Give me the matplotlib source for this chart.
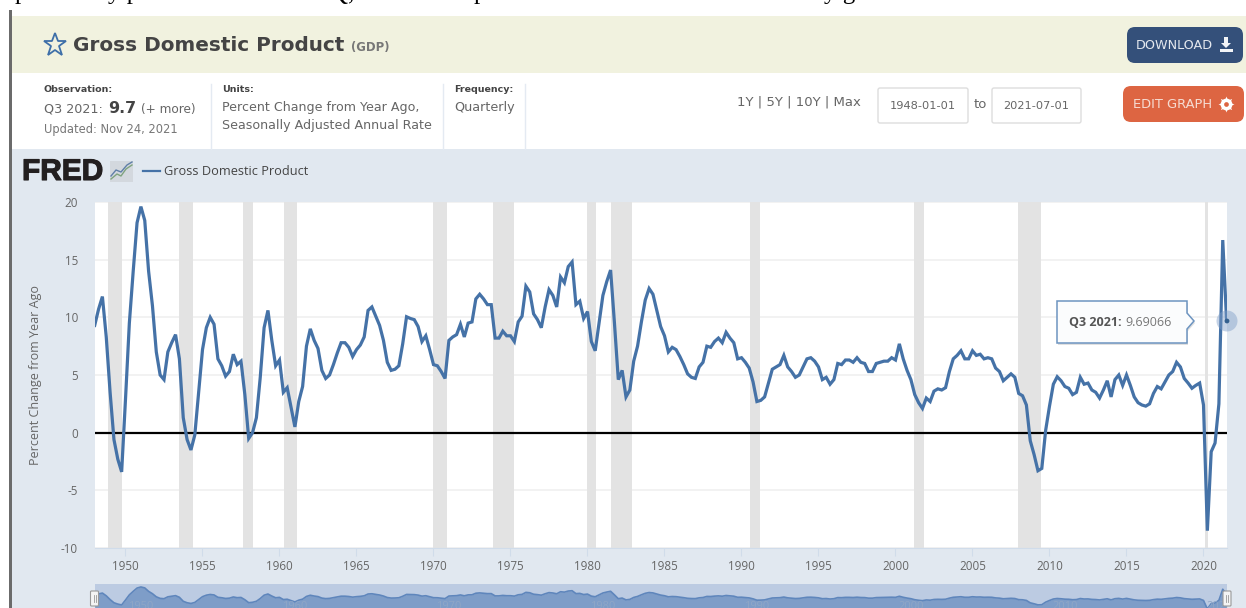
# -*- coding=utf-8 -*-
import matplotlib
matplotlib.use('Agg')
import matplotlib.pyplot as plt
import matplotlib.patheffects as pe
import numpy as np
from matplotlib.patches import Rectangle, FancyBboxPatch, Circle, Polygon

plt.rcParams['axes.unicode_minus'] = False

# 1948 Q1 ... 2021 Q3, percent change from year ago
gdp_1948_1959 = [9.3, 10.7, 11.8, 8.3, 3.5, -0.6, -2.3, -3.4,
                 2.9, 9.5, 14.0, 18.2, 19.6, 18.4, 14.0, 11.0,
                 7.0, 5.0, 4.6, 7.0, 7.8, 8.5, 6.4, 1.3,
                 -0.6, -1.5, -0.2, 3.5, 7.2, 9.1, 10.0, 9.4,
                 6.4, 5.8, 4.9, 5.3, 6.8, 5.9, 6.2, 3.3,
                 -0.5, 0.0, 1.3, 4.8, 9.1, 10.6, 8.0, 5.8]
gdp_1960_1971 = [6.3, 3.5, 3.9, 2.2, 0.5, 2.7, 4.0, 7.5,
                 9.0, 8.0, 7.3, 5.4, 4.7, 5.0, 5.9, 6.9,
                 7.8, 7.8, 7.4, 6.6, 7.2, 7.6, 8.3, 10.6,
                 10.9, 10.1, 9.3, 8.0, 6.1, 5.4, 5.5, 5.8,
                 7.7, 10.05, 9.9, 9.8, 9.2, 7.9, 8.4, 7.2,
                 5.9, 5.8, 5.3, 4.7, 8.0, 8.3, 8.5, 9.4]
gdp_1972_1984 = [8.3, 9.5, 9.6, 11.6, 12.0, 11.6, 11.1, 11.1,
                 8.2, 8.2, 8.8, 8.4, 8.4, 7.9, 9.6, 10.1,
                 12.7, 12.2, 10.3, 9.8, 9.1, 10.9, 12.4, 11.9,
                 10.9, 13.5, 13.0, 14.4, 14.8, 11.1, 11.4, 9.9,
                 10.5, 7.9, 7.1, 9.5, 11.9, 13.1, 14.1, 9.5,
                 4.6, 5.4, 3.1, 3.7, 6.2, 7.5, 9.6, 11.5,
                 12.5, 12.0, 10.6, 9.2]
gdp_1985_1996 = [8.4, 7.0, 7.4, 7.2, 6.6, 5.9, 5.1, 4.8,
                 4.7, 5.7, 6.1, 7.5, 7.4, 7.9, 8.2, 7.8,
                 8.7, 8.2, 7.8, 6.4, 6.5, 6.1, 5.6, 4.4,
                 2.7, 2.8, 3.1, 4.3, 5.5, 5.7, 5.9, 6.7,
                 5.7, 5.3, 4.8, 5.0, 5.7, 6.4, 6.5, 6.2,
                 5.7, 4.6, 4.8, 4.2, 4.6, 6.0, 5.9, 6.3]
gdp_1997_2008 = [6.3, 6.1, 6.5, 6.1, 6.0, 5.3, 5.3, 6.0,
                 6.1, 6.2, 6.2, 6.5, 6.3, 7.7, 6.4, 5.4,
                 4.6, 3.3, 2.6, 2.1, 3.0, 2.7, 3.6, 3.8,
                 3.7, 3.9, 5.3, 6.4, 6.7, 7.1, 6.4, 6.4,
                 7.1, 6.7, 6.8, 6.4, 6.5, 6.4, 5.6, 5.3,
                 4.5, 4.8, 5.1, 4.8, 3.4, 3.2, 2.4, -0.7]
gdp_2009_2021 = [-1.9, -3.3, -3.1, 0.2, 2.3, 4.2, 4.85, 4.5,
                 4.0, 3.85, 3.3, 3.5, 4.8, 4.2, 4.3, 3.7,
                 3.5, 3.0, 3.7, 4.5, 3.1, 4.6, 5.0, 4.1,
                 5.0, 4.1, 3.1, 2.6, 2.4, 2.3, 2.5, 3.4,
                 4.0, 3.8, 4.4, 5.0, 5.3, 6.1, 5.7, 4.7,
                 4.3, 3.85, 4.1, 4.3, 2.4, -8.5, -1.65, -0.9,
                 2.5, 16.7, 9.69066]
gdp = np.array(gdp_1948_1959 + gdp_1960_1971 + gdp_1972_1984
               + gdp_1985_1996 + gdp_1997_2008 + gdp_2009_2021)
quarters = 1948 + np.arange(len(gdp)) * 0.25

recession_start = [1948.87, 1953.5, 1957.6, 1960.3, 1969.95, 1973.85,
                   1980.0, 1981.5, 1990.55, 2001.2, 2007.93, 2020.1]
recession_end = [1949.8, 1954.37, 1958.3, 1961.12, 1970.87, 1975.2,
                 1980.55, 1982.87, 1991.2, 2001.87, 2009.45, 2020.3]

year_ticks = list(range(1950, 2021, 5))
value_ticks = [-10, -5, 0, 5, 10, 15, 20]
nav_years = list(range(1950, 2021, 10))

W, H = 1246, 608
BLUE = '#4572A7'
TXT = '#666666'
DARK = '#444444'
HEAD = 'DejaVu Sans'
CHART = 'Open Sans'


def px_axes(fig, z):
    # axes in picture pixels, origin top left
    ax = fig.add_axes([0, 0, 1, 1], zorder=z)
    ax.set_xlim(0, W)
    ax.set_ylim(H, 0)
    ax.axis('off')
    ax.patch.set_alpha(0)
    return ax


def box_in_px(fig, x0, y0, x1, y1, z):
    return fig.add_axes([x0 / W, 1 - y1 / H, (x1 - x0) / W, (y1 - y0) / H], zorder=z)


def button(ax, x0, y0, x1, y1, color):
    ax.add_patch(FancyBboxPatch((x0 + 8, y0 + 8), x1 - x0 - 16, y1 - y0 - 16,
                                boxstyle='round,pad=8', fc=color, ec='none'))


def page(ax):
    # document line above the screenshot, only the descenders are left in the crop
    for x, s in [(15, 'p'), (108, 'y p'), (330, 'Q,'), (474, 'p'), (824, 'y g')]:
        ax.text(x, -0.5, s, family='Liberation Serif', fontsize=18, color='black', va='baseline')
    ax.add_patch(Rectangle((9, 10), 2.5, H - 10, fc='#6b6b6b', ec='none'))
    ax.add_patch(Rectangle((11.5, 16), W, 57, fc='#F1F2DF', ec='none'))
    ax.add_patch(Rectangle((11.5, 149), W, H, fc='#E1E8F0', ec='none'))

    ax.plot([55], [45], marker='*', ms=17, mfc='#F1F2DF', mec='#3E6FA8', mew=1.3)
    ax.text(73, 45.5, 'Gross Domestic Product', family=HEAD, weight='bold', fontsize=14.4,
            color=DARK, va='center')
    ax.text(351, 48, '(GDP)', family=HEAD, weight='bold', fontsize=8.4, color='#777777', va='center')

    for x in [211, 443, 525]:
        ax.plot([x, x], [84, 149], color='#E4EAF2', lw=1)
    ax.text(44, 90, 'Observation:', family=HEAD, weight='bold', fontsize=6.8, color=DARK, va='center')
    ax.text(44, 109.5, 'Q3 2021:', family=HEAD, fontsize=9.2, color=TXT, va='center')
    ax.text(108, 108.5, '9.7', family=HEAD, weight='bold', fontsize=11.4, color=DARK, va='center')
    ax.text(141, 110, '(+ more)', family=HEAD, fontsize=8.7, color=TXT, va='center')
    ax.text(44, 130, 'Updated: Nov 24, 2021', family=HEAD, fontsize=8.3, color='#777777', va='center')
    ax.text(222, 90, 'Units:', family=HEAD, weight='bold', fontsize=6.8, color=DARK, va='center')
    ax.text(222, 107, 'Percent Change from Year Ago,', family=HEAD, fontsize=9.1, color=TXT, va='center')
    ax.text(222, 125, 'Seasonally Adjusted Annual Rate', family=HEAD, fontsize=9.1, color=TXT, va='center')
    ax.text(454, 90, 'Frequency:', family=HEAD, weight='bold', fontsize=6.8, color=DARK, va='center')
    ax.text(454, 107, 'Quarterly', family=HEAD, fontsize=9.2, color=TXT, va='center')

    ax.text(737, 102, '1Y | 5Y | 10Y | Max', family=HEAD, fontsize=9.5, color=TXT, va='center')
    for x0, x1, s in [(878, 968, '1948-01-01'), (992, 1081, '2021-07-01')]:
        ax.add_patch(FancyBboxPatch((x0 + 2, 90), x1 - x0 - 4, 31, boxstyle='round,pad=2',
                                    fc='white', ec='#DDDDDD', lw=1))
        ax.text((x0 + x1) / 2, 106, s, family=HEAD, fontsize=8.2, color=TXT, ha='center', va='center')
    ax.text(980, 105, 'to', family=HEAD, fontsize=9.5, color=TXT, ha='center', va='center')

    button(ax, 1127, 27, 1243, 63, '#34507A')
    ax.text(1136, 45.5, 'DOWNLOAD', family=HEAD, fontsize=9.2, color='#E4E8EE', va='center')
    # download icon
    ax.add_patch(Polygon([[1224, 37], [1228, 37], [1228, 43], [1231, 43], [1226, 48], [1221, 43], [1224, 43]],
                         fc='#F2F4F7', ec='none'))
    ax.add_patch(Rectangle((1219.5, 48.5), 13, 3.5, fc='#F2F4F7', ec='none'))

    button(ax, 1123, 86, 1244, 122, '#DD6542')
    ax.text(1133, 104.5, 'EDIT GRAPH', family=HEAD, fontsize=9.4, color='#F6DCD2', va='center')
    # gear icon
    ax.plot([1226], [104], marker=(8, 1, 0), ms=11.5, color='white', mew=0)
    ax.plot([1226], [104], marker='o', ms=8.5, color='white', mew=0)
    ax.plot([1226], [104], marker='o', ms=3.4, color='#DD6542', mew=0)

    # logo
    ax.text(22, 172, 'FRED', family='Liberation Sans', weight='bold', fontsize=21.5, color='#231F20',
            va='center', path_effects=[pe.withStroke(linewidth=0.8, foreground='#231F20')])
    ax.add_patch(Rectangle((110, 161), 23, 21, fc='#D3D8DE', ec='none'))
    ax.plot([111, 117, 121, 126, 132], [179, 174, 176, 169, 165], color='#7FA37F', lw=1)
    ax.plot([111, 116, 121, 127, 132], [176, 170, 172, 165, 162], color='#5F7FA8', lw=1)
    ax.plot([143, 160], [171, 171], color=BLUE, lw=1.6)
    ax.text(164, 171.5, 'Gross Domestic Product', family=CHART, fontsize=9.2, color='#444444', va='center')

    ax.text(36, 375, 'Percent Change from Year Ago', family=CHART, fontsize=9, color=TXT,
            rotation=90, ha='center', va='center')


def main_chart(ax):
    ax.set_facecolor('white')
    for a, b in zip(recession_start, recession_end):
        ax.axvspan(a, b, fc='#E3E3E3', ec='none', zorder=1)
    ax.grid(axis='y', color='#F0F0F0', lw=1.2, zorder=0)
    ax.set_axisbelow(True)
    ax.axhline(0, color='black', lw=1.6, zorder=2)
    ax.plot(quarters, gdp, color=BLUE, lw=2.3, zorder=3, solid_joinstyle='miter', clip_on=True)
    ax.set_xlim(1948, 2021.5)
    ax.set_ylim(-10, 20)
    ax.set_xticks(year_ticks)
    ax.set_yticks(value_ticks)
    ax.tick_params(axis='x', length=6, width=0.8, color='#D0DCEA', labelcolor=TXT, labelsize=8.4, pad=3)
    ax.tick_params(axis='y', length=0, labelcolor=TXT, labelsize=8.4, pad=12)
    for label in ax.get_xticklabels() + ax.get_yticklabels():
        label.set_family(CHART)
    for s in ax.spines.values():
        s.set_visible(False)
    ax.spines['bottom'].set_visible(True)
    ax.spines['bottom'].set_color('#D0DCEA')


def navigator(ax):
    ax.set_facecolor('#BCCBE2')
    ax.fill_between(quarters, gdp, -8, color='#7E9DC8', lw=0, zorder=2)
    ax.plot(quarters, gdp, color='#5F86BC', lw=1.2, zorder=3)
    ax.set_xlim(1948, 2021.5)
    ax.set_ylim(-7.3, 23.4)
    ax.set_xticks([])
    ax.set_yticks([])
    for s in ax.spines.values():
        s.set_visible(False)
    for y in nav_years:
        ax.text(y + 1, -5.8, str(y), family=CHART, fontsize=8, color='#8FA6C6', ha='center',
                va='center', zorder=4, clip_on=True)


def overlay(ax):
    # hover marker and tooltip
    ax.add_patch(Circle((1227, 321), 10.5, fc='#7E9DC8', ec='none', alpha=0.45))
    ax.add_patch(Circle((1227, 321), 2.4, fc='#34608F', ec='none'))
    ax.add_patch(Polygon([[1058, 303], [1188, 303], [1188, 315], [1195, 323], [1188, 331], [1188, 345], [1058, 345]],
                         fc='#BBBBBB', ec='none', alpha=0.45))
    ax.add_patch(Polygon([[1057, 301], [1187, 301], [1187, 313], [1194, 321], [1187, 329], [1187, 343], [1057, 343]],
                         fc='#FBFCFD', ec='#6D94C0', lw=1.1))
    ax.text(1069, 322, 'Q3 2021:', family=CHART, weight='bold', fontsize=9, color='#555555', va='center')
    ax.text(1125, 322, '9.69066', family=CHART, fontsize=9, color='#777777', va='center')
    # navigator handles
    for x in [94.5, 1227]:
        ax.add_patch(FancyBboxPatch((x - 3, 592), 6, 13, boxstyle='round,pad=1', fc='#F4F4F4', ec='#999999', lw=0.8))
        ax.plot([x - 1, x - 1], [595, 602], color='#999999', lw=0.6)
        ax.plot([x + 1, x + 1], [595, 602], color='#999999', lw=0.6)


def main():
    fig = plt.figure(figsize=(W / 100, H / 100), dpi=100, facecolor='white')
    bg = px_axes(fig, 0)
    page(bg)
    ax = box_in_px(fig, 94.7, 202, 1226.6, 548, 1)
    main_chart(ax)
    nav = box_in_px(fig, 94.7, 584, 1226.6, 608, 1)
    navigator(nav)
    top = px_axes(fig, 2)
    overlay(top)
    fig.savefig('out.png', dpi=100)


if __name__ == '__main__':
    main()
